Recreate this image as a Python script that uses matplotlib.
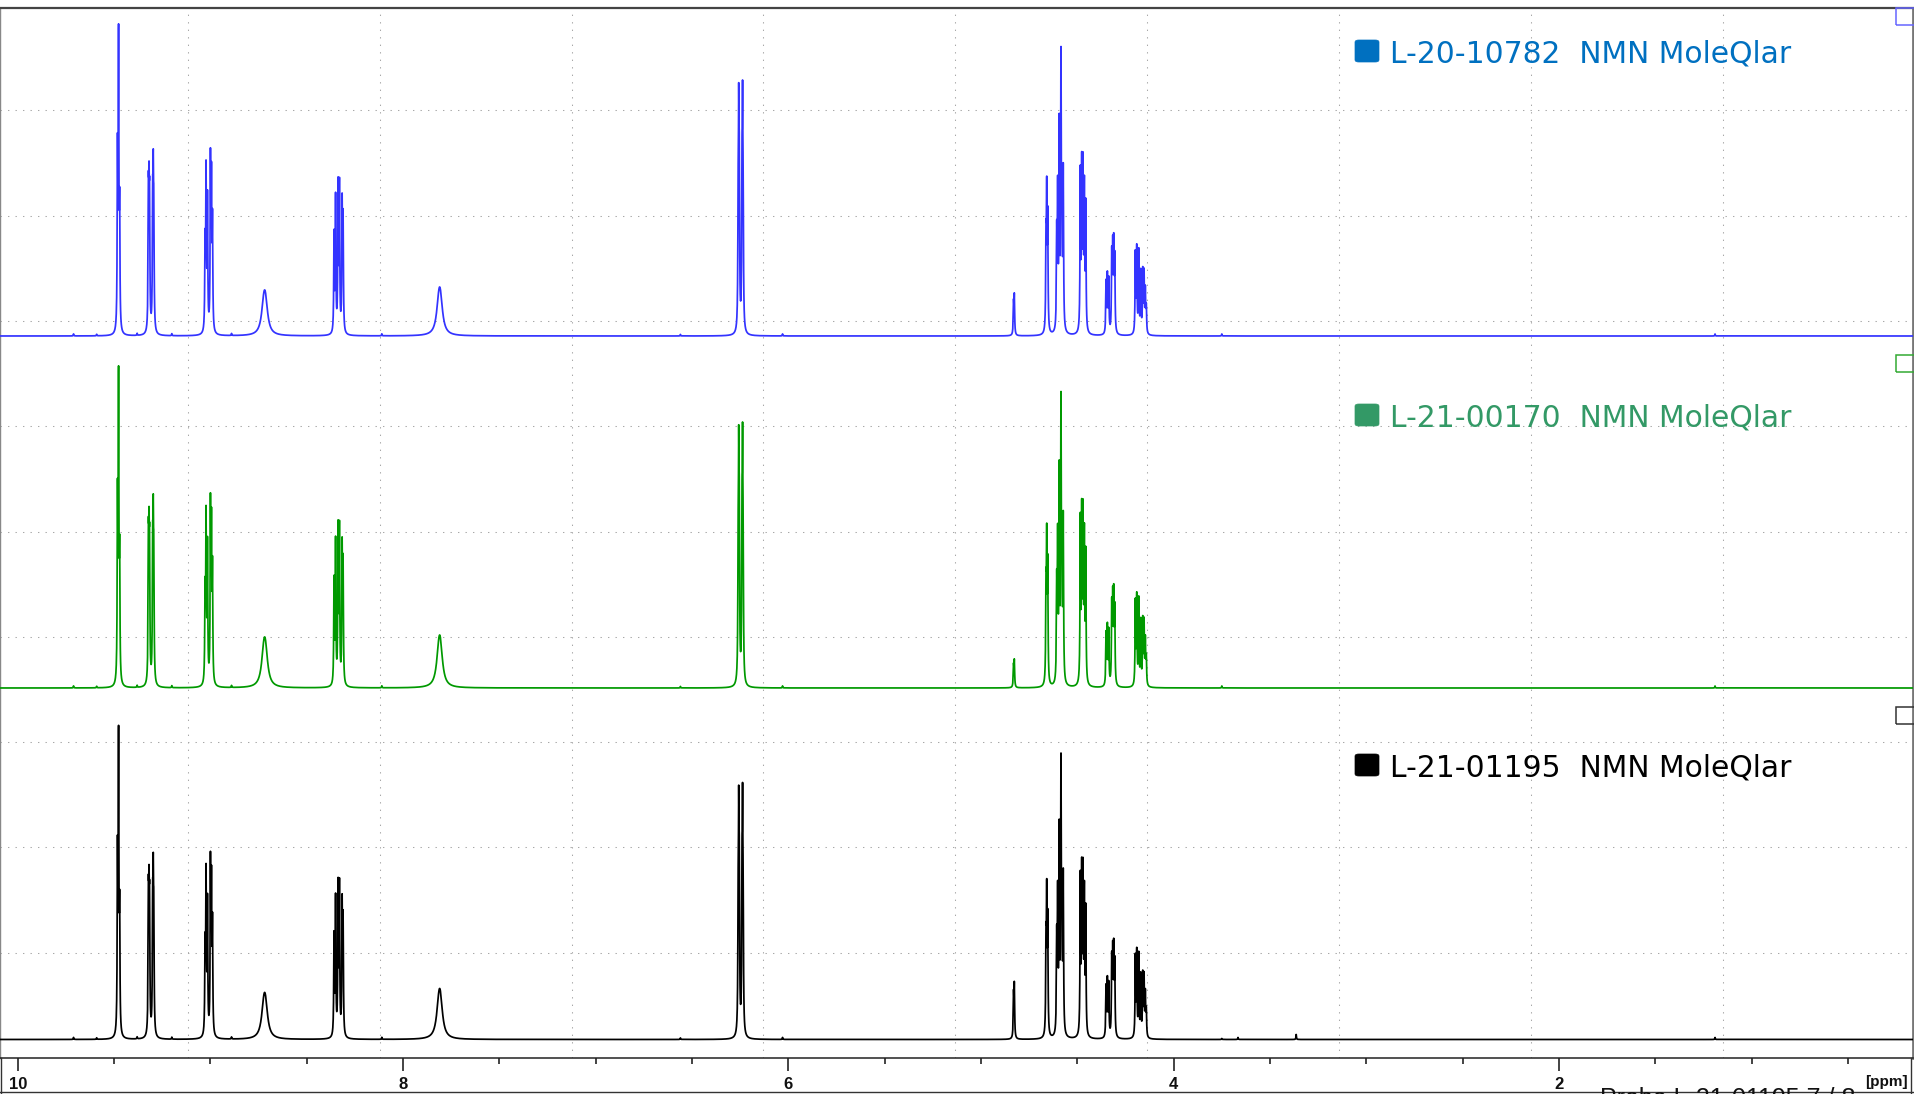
import numpy as np
import matplotlib.pyplot as plt
from matplotlib.patches import FancyBboxPatch, Rectangle
from matplotlib.lines import Line2D

W, H = 1915, 1094

# multiplets: line positions (ppm) and relative intensities
line_pos = [
    [9.482, 9.4765, 9.471],                                   # A
    [9.3215, 9.3185, 9.3155, 9.2995, 9.2965, 9.2935],         # B
    [9.0275, 9.0223, 9.0150, 8.9995, 8.9943, 8.9890],         # C
    [8.7227, 8.7140],                                         # D (broad)
    [8.358, 8.350, 8.337, 8.330, 8.316, 8.311],               # E
    [7.814, 7.806],                                           # F (broad)
    [6.2605, 6.2575, 6.2545, 6.2405, 6.2375, 6.2345],         # G
    [4.831, 4.827],                                           # H
    [4.6626, 4.6589, 4.6537],                                 # I
    [4.607, 4.602, 4.594, 4.585, 4.580, 4.573],               # J
    [4.4844, 4.4772, 4.4704, 4.4636, 4.4564],                 # K
    [4.3509, 4.3441, 4.3370, 4.3214, 4.3162, 4.3110, 4.3058], # L
    [4.1988, 4.1916, 4.1812, 4.1708, 4.1604, 4.1537, 4.147, 4.142],  # M
]
line_rel = [
    [0.6, 1.0, 0.4],
    [0.96, 0.85, 0.9, 0.88, 1.0, 0.8],
    [0.51, 0.94, 0.79, 1.0, 0.85, 0.63],
    [0.95, 1.0],
    [0.67, 0.92, 1.0, 0.99, 0.86, 0.75],
    [0.95, 1.0],
    [0.55, 0.99, 0.7, 0.7, 1.0, 0.55],
    [0.8, 1.0],
    [0.64, 1.0, 0.86],
    [0.35, 0.51, 0.76, 1.0, 0.46, 0.60],
    [0.98, 1.0, 0.99, 0.86, 0.78],
    [0.61, 0.68, 0.64, 0.91, 0.96, 1.0, 0.86],
    [0.95, 1.0, 0.98, 0.73, 0.73, 0.70, 0.5, 0.3],
]
line_hw = [0.0019, 0.0019, 0.0019, 0.014, 0.0019, 0.014, 0.0019,
           0.0019, 0.0019, 0.0019, 0.0019, 0.0019, 0.0019]

# multiplet heights per sample (pixels above baseline)
heights_20_10782 = [312, 187, 188, 46, 159, 49, 256, 43, 159, 289, 184, 103, 92]
heights_21_00170 = [322, 194, 195, 51, 168, 53, 266, 29, 164, 296, 189, 104, 96]
heights_21_01195 = [314, 187, 188, 47, 162, 51, 257, 58, 160, 286, 182, 101, 92]

# tiny baseline signals
blip_pos = [9.71, 9.59, 9.38, 9.20, 8.89, 8.11, 6.56, 6.03, 3.75, 3.666, 3.364, 1.19]
blip_20_10782 = [2, 1.5, 2, 2, 2, 2, 1.5, 2, 2, 0, 0, 2]
blip_21_00170 = [2, 1.5, 2, 2, 2, 2, 1.5, 2, 2, 0, 0, 2]
blip_21_01195 = [2, 1.5, 2, 2, 2, 2, 1.5, 2, 1, 2, 5, 2]

samples = ["L-20-10782  NMN MoleQlar", "L-21-00170  NMN MoleQlar", "L-21-01195  NMN MoleQlar"]
line_colors = ["#3333ff", "#009900", "#000000"]
text_colors = ["#0070c0", "#339966", "#000000"]
corner_colors = ["#6666ff", "#33aa33", "#333333"]
baselines = [722, 370, 18.5]          # px above the x axis
legend_top = [40, 404, 754]           # px from top of the image
corner_top = [8, 355, 707]

ppm = np.arange(0.1, 10.15, 0.0004)


def lor(x, x0, w):
    return 1.0 / (1.0 + ((x - x0) / w) ** 2)


def spectrum(heights, blips):
    y = np.zeros_like(ppm)
    for pos, rel, w, h in zip(line_pos, line_rel, line_hw, heights):
        g = np.zeros_like(ppm)
        for p, r in zip(pos, rel):
            g += r * lor(ppm, p, w)
        y += h * g / g.max()
    for p, h in zip(blip_pos, blips):
        y += h * lor(ppm, p, 0.0015)
    return y


def fx(px):
    return px / W


def fy(py):
    return 1 - py / H


fig = plt.figure(figsize=(W / 100, H / 100), dpi=100)
ax = fig.add_axes([0, fy(1058), fx(1913), (1058 - 8) / H])
ax.set_xlim(10.0919, 0.1625)
ax.set_ylim(0, 1050)

# grid (drawn as equal divisions, like the NMR program does)
dots = dict(color="#a8a8a8", lw=0.75, ls=(0, (1.3, 5.9)), zorder=1)
for gx in np.linspace(9.117, 1.151, 9):
    ax.axvline(gx, **dots)
for gy in np.arange(1, 10) * 105.3:
    ax.axhline(gy, **dots)

specs = [spectrum(heights_20_10782, blip_20_10782),
         spectrum(heights_21_00170, blip_21_00170),
         spectrum(heights_21_01195, blip_21_01195)]

for sp, base, c in zip(specs, baselines, line_colors):
    ax.plot(ppm, base + sp, color=c, lw=1.25, zorder=3)

ax.set_yticks([])
ax.set_xticks([10, 8, 6, 4, 2])
ax.set_xticks(np.arange(0.5, 10.01, 0.5), minor=True)
ax.tick_params(axis="x", which="major", direction="out", length=9.4, width=1.1,
               pad=4, color="#111111")
ax.tick_params(axis="x", which="minor", direction="out", length=4.5, width=1.1,
               color="#111111")
for lab in ax.get_xticklabels():
    lab.set_fontfamily("Liberation Sans")
    lab.set_fontweight("bold")
    lab.set_fontsize(12)
    lab.set_color("#111111")

ax.spines["top"].set_color("#444444")
ax.spines["top"].set_linewidth(1.6)
ax.spines["right"].set_color("#777777")
ax.spines["right"].set_linewidth(2.0)
ax.spines["left"].set_color("#888888")
ax.spines["left"].set_linewidth(1.0)
ax.spines["bottom"].set_color("#222222")
ax.spines["bottom"].set_linewidth(1.1)

# legend entries
for name, tc, top in zip(samples, text_colors, legend_top):
    box = FancyBboxPatch((fx(1355), fy(top + 22)), fx(24), 22 / H,
                         boxstyle="round,pad=0,rounding_size=0.002",
                         transform=fig.transFigure, facecolor=tc,
                         edgecolor=tc, lw=0.5)
    fig.add_artist(box)
    fig.text(fx(1390), fy(top + 22), name, color=tc, fontsize=21.4,
             family="DejaVu Sans", va="baseline", ha="left")

# small open squares at the right edge of every spectrum
for cc, top in zip(corner_colors, corner_top):
    fig.add_artist(Rectangle((fx(1896), fy(top + 17)), fx(20), 17 / H,
                             transform=fig.transFigure, facecolor="none",
                             edgecolor=cc, lw=1.1, clip_on=False))

# outer frame
frame = dict(transform=fig.transFigure, color="#333333", lw=1.0)
fig.add_artist(Line2D([fx(0.5), fx(0.5)], [fy(1058), 0], **frame))
fig.add_artist(Line2D([fx(1911), fx(1911)], [fy(1058), 0], **frame))
fig.add_artist(Line2D([0, 1], [fy(1091.5), fy(1091.5)], **frame))

fig.text(fx(1908), fy(1082), "[ppm]", fontsize=11, fontweight="bold",
         family="Liberation Sans", ha="right", va="center", color="#111111")
fig.text(fx(1600), fy(1087), "Probe L-21-01195 7 / 8", fontsize=18,
         family="Liberation Sans", ha="left", va="top", color="#111111")

fig.savefig("out.png", dpi=100)
